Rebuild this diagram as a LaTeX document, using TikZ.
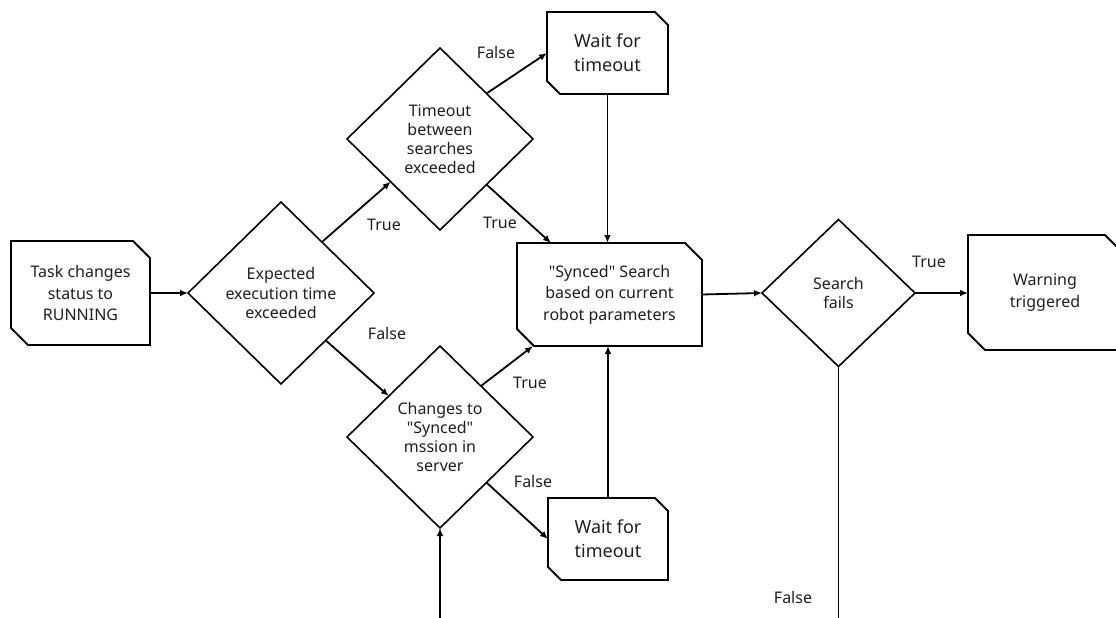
\documentclass[tikz,border=0pt]{standalone}
\usepackage{fontspec}
\setmainfont{Noto Sans}[Ligatures=TeXOff]
\usetikzlibrary{shapes.geometric,arrows.meta,calc}
\newdimen\pxu \pxu=0.75pt

% outline of a box with the top-right and bottom-left corners cut off
\newcommand\cutcorners[2]{%
  \draw[line] (#1.north west) -- ($(#1.north east)+(-#2,0)$) -- ($(#1.north east)+(0,#2)$)
    -- (#1.south east) -- ($(#1.south west)+(#2,0)$) -- ($(#1.south west)+(0,-#2)$) -- cycle;}

\begin{document}
\begin{tikzpicture}[x=0.75pt,y=-0.75pt,
  every node/.style={text=black!88, outer sep=0pt},
  line/.style={line width=1.35pt, draw=black},
  arr/.style={line, -{Latex[length=6pt,width=5pt]}},
  decision/.style={diamond, draw=black, line width=1.2pt, inner sep=0pt, align=center,
    font=\fontsize{12}{14.3}\selectfont},
  block/.style={rectangle, draw=none, inner sep=0pt, align=center,
    font=\fontsize{12}{16.1}\selectfont},
  waitblock/.style={block, font=\fontsize{13.5}{18}\selectfont},
  lbl/.style={inner sep=0pt, font=\fontsize{12}{14}\selectfont}
]
\useasboundingbox (0,0) rectangle (1116,617);
\clip (0,0) rectangle (1116,617);

% process boxes
\node[block, minimum width=139\pxu, minimum height=104\pxu] (task) at (80.5,293)
  {Task changes\\status to\\RUNNING};
\node[waitblock, minimum width=121\pxu, minimum height=82\pxu] (wait1) at (607.5,53)
  {Wait for\\timeout};
\node[block, minimum width=185\pxu, minimum height=103\pxu] (synced) at (609.5,294.5)
  {"Synced" Search\\based on current\\robot parameters};
\node[waitblock, minimum width=120\pxu, minimum height=82\pxu] (wait2) at (608,539)
  {Wait for\\timeout};
\node[block, minimum width=154\pxu, minimum height=115\pxu] (warn) at (1045,292.5)
  {Warning\\triggered};
\cutcorners{task}{17}
\cutcorners{wait1}{13}
\cutcorners{synced}{17}
\cutcorners{wait2}{13}
\cutcorners{warn}{17}

% decisions
\node[decision, minimum width=186\pxu, minimum height=182\pxu] (exp) at (281,293)
  {Expected\\execution time\\exceeded};
\node[decision, minimum width=186\pxu, minimum height=182\pxu] (tmo) at (440,139)
  {Timeout\\between\\searches\\exceeded};
\node[decision, minimum width=186\pxu, minimum height=182\pxu] (chg) at (440,437)
  {Changes to\\"Synced"\\mssion in\\server};
\node[decision, minimum width=153\pxu, minimum height=147\pxu] (search) at (838.5,293)
  {Search\\fails};

% connectors
\draw[arr] (task.east) -- (exp.west);
\draw[arr] ($(exp.north)!0.44!(exp.east)$) -- ($(tmo.west)!0.47!(tmo.south)$);
\draw[arr] ($(exp.east)!0.52!(exp.south)$) -- ($(chg.west)!0.45!(chg.north)$);
\draw[arr] ($(tmo.north)!0.5!(tmo.east)$) -- (wait1.west);
\draw[arr] ($(tmo.east)!0.5!(tmo.south)$) -- ($(synced.north west)+(34,0)$);
\draw[arr] (wait1.south) -- (wait1.south |- synced.north);
\draw[arr] ($(chg.north)!0.44!(chg.east)$) -- ($(synced.south west)+(16,0)$);
\draw[arr] ($(chg.east)!0.5!(chg.south)$) -- (wait2.west);
\draw[arr] (wait2.north) -- (wait2.north |- synced.south);
\draw[arr] (synced.east) -- (search.west);
\draw[arr] (search.east) -- (search.east -| warn.west);
\coordinate (loop) at (838.5,618.6);
\draw[arr] (search.south) -- (search.south |- loop) -| (chg.south);

% branch labels
\node[lbl] (l1) at (384,225) {True};
\node[lbl] (l2) at (387,333) {False};
\node[lbl] (l3) at (496,53) {False};
\node[lbl] (l4) at (500,223) {True};
\node[lbl] (l5) at (530,383) {True};
\node[lbl] (l6) at (533,481) {False};
\node[lbl] (l7) at (929,262) {True};
\node[lbl] (l8) at (793,597) {False};
\end{tikzpicture}
\end{document}
